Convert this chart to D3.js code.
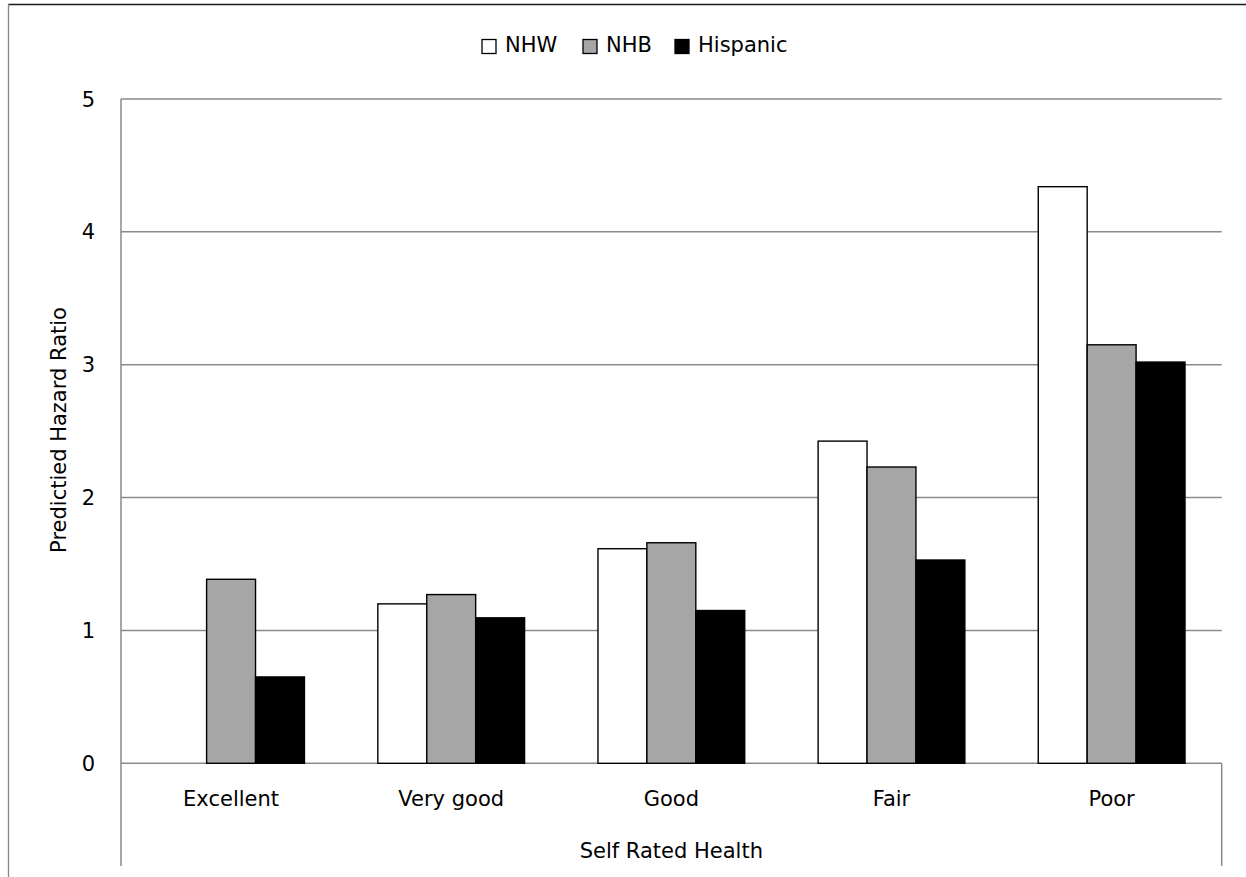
<!DOCTYPE html>
<html><head><meta charset="utf-8">
<script src="https://cdn.jsdelivr.net/npm/d3@7"></script>
<style>body{margin:0;background:#fff}svg{display:block}text{font-family:"DejaVu Sans",sans-serif;fill:#000}</style>
</head><body><svg id="c" width="1246" height="877"></svg>
<script>
const categories = ["Excellent","Very good","Good","Fair","Poor"];
const seriesNames = ["NHW","NHB","Hispanic"];
const nhw = [null,1.20,1.615,2.425,4.34];
const nhb = [1.385,1.27,1.66,2.23,3.15];
const hispanic = [0.65,1.095,1.15,1.53,3.02];
const yTicks = [0,1,2,3,4,5];
const fills = ["#ffffff","#a6a6a6","#000000"];

const svg = d3.select("#c");
const L=121, R=1221.7, T=99, B=763.3;
const FS = "21px";
const x0 = d3.scaleBand().domain(categories).range([L,R]).padding(0);
const bw = x0.bandwidth();
const x1 = d3.scaleBand().domain(seriesNames).range([bw*0.75/4.5, bw - bw*0.75/4.5]).padding(0);
const y = d3.scaleLinear().domain([0,5]).range([B,T]);

// outer border
svg.append("line").attr("x1",8).attr("x2",1246).attr("y1",4.5).attr("y2",4.5).attr("stroke","#1a1a1a").attr("stroke-width",1.3);
svg.append("line").attr("x1",8.5).attr("x2",8.5).attr("y1",4).attr("y2",877).attr("stroke","#888").attr("stroke-width",1.3);

// gridlines
svg.append("g").selectAll("line").data(yTicks).join("line")
  .attr("x1",L).attr("x2",R).attr("y1",d=>y(d)).attr("y2",d=>y(d))
  .attr("stroke","#8a8a8a").attr("stroke-width",1.5);
// axis vertical lines
svg.append("line").attr("x1",L).attr("x2",L).attr("y1",T).attr("y2",866).attr("stroke","#8a8a8a").attr("stroke-width",1.5);
svg.append("line").attr("x1",R).attr("x2",R).attr("y1",B).attr("y2",866).attr("stroke","#8a8a8a").attr("stroke-width",1.5);

// y tick labels
svg.append("g").selectAll("text").data(yTicks).join("text")
  .attr("x",95).attr("y",d=>y(d)).attr("dy","0.36em").attr("text-anchor","end")
  .style("font-size",FS).text(d=>d);

// bars
const series = [nhw,nhb,hispanic];
series.forEach((vals,si)=>{
  svg.append("g").selectAll("rect").data(categories.map((c,i)=>({c,v:vals[i]})).filter(d=>d.v!=null)).join("rect")
    .attr("x",d=>x0(d.c)+x1(seriesNames[si]))
    .attr("width",x1.bandwidth())
    .attr("y",d=>y(d.v)).attr("height",d=>y(0)-y(d.v))
    .attr("fill",fills[si]).attr("stroke","#000").attr("stroke-width",1.4);
});

// category labels
svg.append("g").selectAll("text").data(categories).join("text")
  .attr("x",d=>x0(d)+bw/2).attr("y",806).attr("text-anchor","middle")
  .style("font-size",FS).text(d=>d);

// axis titles
svg.append("text").attr("x",(L+R)/2).attr("y",858).attr("text-anchor","middle").style("font-size",FS).text("Self Rated Health");
svg.append("text").attr("transform","translate(66,430) rotate(-90)").attr("text-anchor","middle").style("font-size",FS).text("Predictied Hazard Ratio");

// legend
const lg = svg.append("g");
const legX = [482,583,675];
seriesNames.forEach((s,i)=>{
  lg.append("rect").attr("x",legX[i]).attr("y",39.5).attr("width",14).attr("height",14)
    .attr("fill",fills[i]).attr("stroke","#000").attr("stroke-width",1.3);
  lg.append("text").attr("x",legX[i]+23).attr("y",52).style("font-size",FS).text(s);
});
</script></body></html>
